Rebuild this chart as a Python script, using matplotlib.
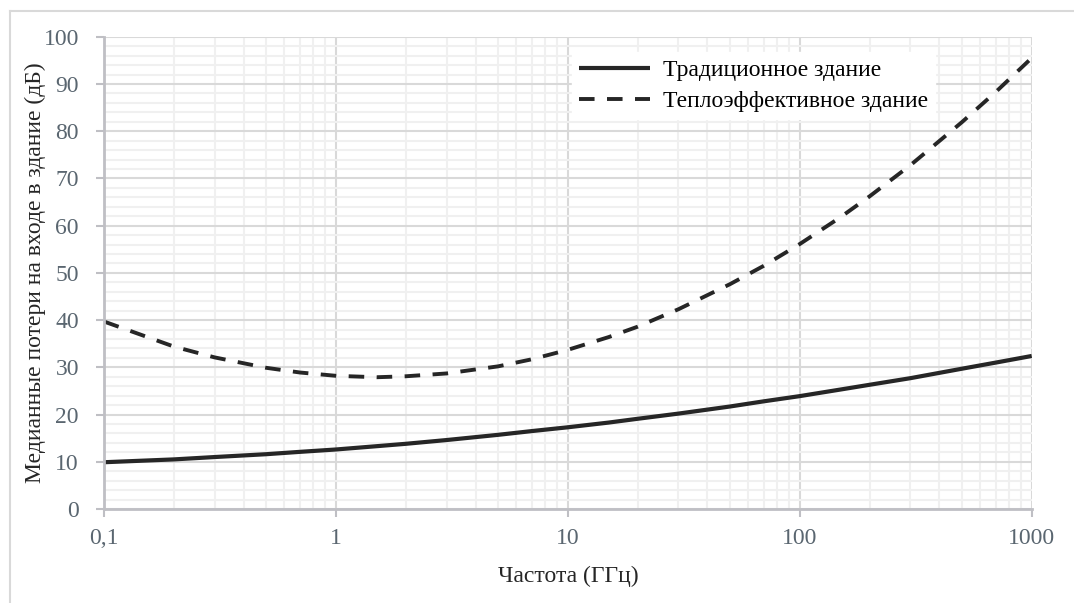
import matplotlib
matplotlib.use('Agg')
import matplotlib.pyplot as plt
from matplotlib.lines import Line2D
from matplotlib.ticker import FixedLocator, NullFormatter, MultipleLocator

# frequency grid (GHz) and median entry loss (dB) for both building types
freq_ghz = [0.1, 0.2, 0.3, 0.5, 0.7, 1, 1.5, 2, 3, 5, 7, 10, 15, 20, 30, 50, 70,
            100, 150, 200, 300, 500, 700, 1000]
loss_traditional = [9.9, 10.5, 11.0, 11.6, 12.1, 12.6, 13.3, 13.8, 14.6, 15.7, 16.5,
                    17.3, 18.3, 19.1, 20.2, 21.7, 22.8, 23.9, 25.3, 26.3, 27.7, 29.7,
                    31.0, 32.4]
loss_thermal = [39.7, 34.4, 32.1, 29.9, 28.9, 28.2, 27.9, 28.1, 28.7, 30.2, 31.7,
                33.7, 36.4, 38.6, 42.3, 47.6, 51.5, 56.1, 61.8, 66.2, 72.8, 81.9,
                88.3, 95.5]
x_ticks = [0.1, 1, 10, 100, 1000]
x_tick_labels = ['0,1', '1', '10', '100', '1000']
series_names = ['Традиционное здание', 'Теплоэффективное здание']

plt.rcParams['font.family'] = ['Liberation Serif', 'DejaVu Serif']

fig = plt.figure(figsize=(10.74, 6.03), dpi=100)
ax = fig.add_axes([0.0968, 0.1559, 0.8638, 0.7832])

# light frame around the whole chart area
fig.add_artist(Line2D([10 / 1074, 10 / 1074], [-0.1, 1 - 11 / 603],
                      transform=fig.transFigure, color='#d9d9d9', lw=1.5))
fig.add_artist(Line2D([10 / 1074, 1.1], [1 - 11 / 603, 1 - 11 / 603],
                      transform=fig.transFigure, color='#d9d9d9', lw=1.5))

ax.plot(freq_ghz, loss_traditional, color='#262626', lw=3.0,
        solid_capstyle='butt', label=series_names[0])
ax.plot(freq_ghz, loss_thermal, color='#262626', lw=2.8, dashes=(4.0, 3.2),
        label=series_names[1])

ax.set_xscale('log')
ax.set_xlim(0.1, 1000)
ax.set_ylim(0, 100)

ax.xaxis.set_major_locator(FixedLocator(x_ticks))
ax.set_xticklabels(x_tick_labels)
minor_x = [m * 10.0 ** e for e in range(-1, 3) for m in range(2, 10)]
ax.xaxis.set_minor_locator(FixedLocator(minor_x))
ax.xaxis.set_minor_formatter(NullFormatter())
ax.yaxis.set_major_locator(MultipleLocator(10))
ax.yaxis.set_minor_locator(MultipleLocator(2))

ax.grid(which='major', color='#d9d9d9', lw=1.5)
ax.grid(which='minor', color='#f0f0f0', lw=1.5)
ax.set_axisbelow(True)

for side in ['top', 'right']:
    ax.spines[side].set_visible(False)
for side in ['left', 'bottom']:
    ax.spines[side].set_color('#bfbfc4')
    ax.spines[side].set_linewidth(2)

ax.tick_params(which='major', length=6, width=1.5, color='#bfbfc4',
               labelsize=17, labelcolor='#5a6670')
ax.tick_params(axis='y', pad=12)
ax.tick_params(axis='x', pad=8)
ax.tick_params(which='minor', length=0)

ax.set_xlabel('Частота (ГГц)', fontsize=17, color='#262626', labelpad=12)
ax.set_ylabel('Медианные потери на входе в здание (дБ)', fontsize=17,
              color='#262626', labelpad=-2)

leg = ax.legend(loc='upper left', bbox_to_anchor=(0.492, 0.992), fontsize=17,
                frameon=True, fancybox=False, handlelength=3.0,
                handletextpad=0.55, borderpad=0.3, labelspacing=0.42)
leg.get_frame().set_edgecolor('white')
leg.get_frame().set_alpha(1)

fig.savefig('out.png', dpi=100)
